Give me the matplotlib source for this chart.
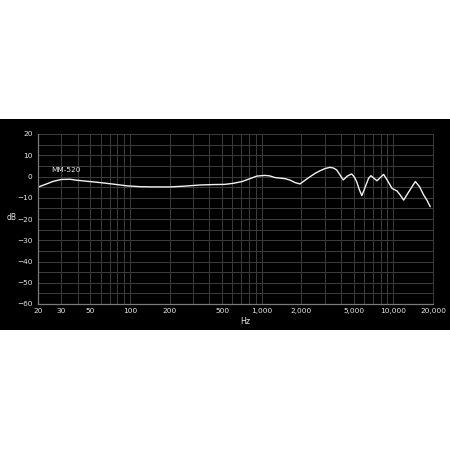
import matplotlib
matplotlib.use("Agg")
import matplotlib.pyplot as plt
from matplotlib.patches import Rectangle
from matplotlib.ticker import FixedLocator, NullFormatter

freq = [20, 23, 26, 30, 35, 40, 50, 60, 75, 95, 120, 150, 200, 250, 340, 430, 526,
        610, 706, 800, 920, 1056, 1150, 1260, 1500, 1640, 1800, 1954, 2130, 2328,
        2550, 2772, 3050, 3300, 3500, 3708, 3934, 4166, 4470, 4820, 5050, 5260,
        5500, 5760, 6125, 6490, 6760, 7100, 7510, 7950, 8440, 9000, 9770, 10660,
        11300, 11970, 13000, 14680, 15800, 16990, 18000, 19060]
db = [-5.0, -3.6, -2.3, -1.4, -1.3, -1.8, -2.4, -2.9, -3.6, -4.4, -4.8, -4.9, -4.9,
      -4.6, -4.0, -3.8, -3.7, -3.2, -2.4, -1.2, 0.2, 0.5, 0.3, -0.5, -1.0, -1.7,
      -2.9, -3.5, -1.8, -0.1, 1.5, 2.7, 3.8, 4.3, 4.0, 3.1, 0.7, -1.6, 0.2, 1.2,
      -0.2, -2.4, -6.0, -9.0, -4.8, -0.8, 0.4, -0.8, -2.0, -0.5, 1.0, -1.8, -5.6,
      -6.8, -8.8, -11.1, -7.5, -2.4, -4.8, -8.7, -11.2, -14.2]

xtick_vals = [20, 30, 50, 100, 200, 500, 1000, 2000, 5000, 10000, 20000]
xtick_labels = ["20", "30", "50", "100", "200", "500", "1,000", "2,000", "5,000",
                "10,000", "20,000"]
ytick_vals = [20, 10, 0, -10, -20, -30, -40, -50, -60]
series_label = "MM-520"

FONT = ["DejaVu Sans"]
TXT = "#e6e6e6"

fig = plt.figure(figsize=(4.5, 4.5), dpi=100, facecolor="white")
fig.patches.append(Rectangle((0, (450 - 330) / 450), 1, (330 - 119) / 450,
                             transform=fig.transFigure, facecolor="black",
                             edgecolor="none", zorder=-10))

ax = fig.add_axes([38 / 450, (450 - 304) / 450, (433 - 38) / 450, (304 - 134) / 450])
ax.set_zorder(5)
ax.set_facecolor("black")
ax.set_xscale("log")
ax.set_xlim(20, 20000)
ax.set_ylim(-60, 20)

minor = []
for dec in [10, 100, 1000, 10000]:
    for m in range(1, 10):
        v = dec * m
        if 20 <= v <= 20000:
            minor.append(v)
ax.xaxis.set_major_locator(FixedLocator(xtick_vals))
ax.xaxis.set_minor_locator(FixedLocator(minor))
ax.xaxis.set_minor_formatter(NullFormatter())
ax.set_xticklabels(xtick_labels)
ax.set_yticks(ytick_vals)
ax.yaxis.set_minor_locator(FixedLocator(list(range(-55, 20, 10))))
ax.grid(True, which="both", color="#3c3c3c", linewidth=0.7)
ax.set_axisbelow(True)

ax.spines["top"].set_visible(False)
ax.spines["right"].set_color("#3c3c3c")
ax.spines["right"].set_linewidth(0.7)
for s in ["left", "bottom"]:
    ax.spines[s].set_color("#7a7a7a")
    ax.spines[s].set_linewidth(0.9)

ax.tick_params(which="both", length=0, colors=TXT, labelsize=5.3)
ax.tick_params(axis="y", pad=4)
ax.tick_params(axis="x", pad=3)
for lab in ax.get_xticklabels() + ax.get_yticklabels():
    lab.set_family(FONT)
    lab.set_color(TXT)

ax.plot(freq, db, color="#f2f2f2", linewidth=1.0, solid_joinstyle="round",
        solid_capstyle="round")

ax.text(25, 3, series_label, color=TXT, fontsize=5.3, family=FONT,
        ha="left", va="center")

fig.text(245 / 450, 1 - 321 / 450, "Hz", color=TXT, fontsize=5.8, family=FONT,
         ha="center", va="center", zorder=6)
fig.text(12 / 450, 1 - 218 / 450, "dB", color=TXT, fontsize=5.5, family=FONT,
         ha="center", va="center", zorder=6)

fig.savefig("out.png", dpi=100, facecolor="white")
